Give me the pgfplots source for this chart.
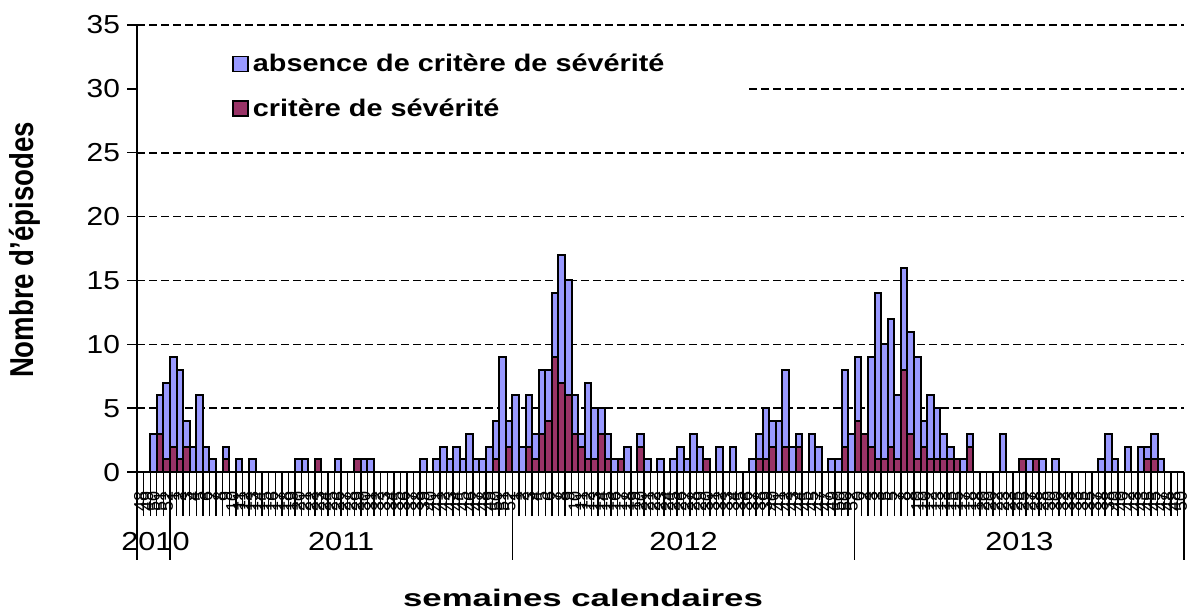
\documentclass[border=0pt]{standalone}
\usepackage{fontspec}
\setmainfont{Liberation Sans}
\usepackage{graphicx}
\usepackage{pgfplots}
\usepackage{pgfplotstable}
\pgfplotsset{compat=1.18}
\definecolor{absbleu}{HTML}{9999FF}
\definecolor{sevrouge}{HTML}{993366}

% x = semaine (0 = sem. 48 de 2010), sev = critère de sévérité, abs = absence de critère
\pgfplotstableread{
x sev abs
2 0 3
3 3 3
4 1 6
5 2 7
6 1 7
7 2 2
8 0 2
9 0 6
10 0 2
11 0 1
13 1 1
15 0 1
17 0 1
24 0 1
25 0 1
27 1 0
30 0 1
33 1 0
34 0 1
35 0 1
43 0 1
45 0 1
46 0 2
47 0 1
48 0 2
49 0 1
50 0 3
51 0 1
52 0 1
53 0 2
54 1 3
55 0 9
56 2 2
57 0 6
58 0 2
59 2 4
60 1 2
61 3 5
62 4 4
63 9 5
64 7 10
65 6 9
66 3 3
67 2 1
68 1 6
69 1 4
70 3 2
71 1 2
72 0 1
73 1 0
74 0 2
76 2 1
77 0 1
79 0 1
81 0 1
82 0 2
83 0 1
84 0 3
85 0 2
86 1 0
88 0 2
90 0 2
93 0 1
94 1 2
95 1 4
96 2 2
97 0 4
98 2 6
99 0 2
100 2 1
102 0 3
103 0 2
105 0 1
106 0 1
107 2 6
108 0 3
109 4 5
110 3 0
111 2 7
112 1 13
113 1 9
114 2 10
115 1 5
116 8 8
117 3 8
118 1 8
119 2 2
120 1 5
121 1 4
122 1 2
123 1 1
124 1 0
125 0 1
126 2 1
131 0 3
134 1 0
135 0 1
136 1 0
137 0 1
139 0 1
146 0 1
147 0 3
148 0 1
150 0 2
152 0 2
153 1 1
154 1 2
155 0 1
}\episodes

\newcommand\larg[1]{\scalebox{1.15}[1]{#1}}

\begin{document}
\begin{tikzpicture}
\begin{axis}[
  width=523.35pt, height=223.5pt, scale only axis,
  xmin=-0.5, xmax=158.5, ymin=0, ymax=35,
  clip=false,
  axis x line*=bottom, axis y line*=left,
  axis line style={black, line width=1pt},
  ybar stacked, bar width=1,
  ytick={0,5,...,35},
  yticklabel={\larg{\pgfmathprintnumber{\tick}}},
  ymajorgrids,
  major grid style={black, line width=0.8pt, dash pattern=on 4pt off 2pt},
  tick align=outside,
  major tick length=5pt,
  ytick style={black, line width=0.75pt},
  yticklabel style={font=\fontsize{13}{13}\selectfont},
  /pgf/number format/assume math mode=true,
  xtick={0,...,158},
  major x tick style={draw=none},
  minor xtick={-0.5,0.5,...,158.5},
  minor tick length=22pt,
  minor x tick style={black, line width=0.7pt},
  xticklabel={\pgfmathtruncatemacro\w{\tick<4.5 ? \tick+48 : (\tick<56.5 ? \tick-4 : (\tick<108.5 ? \tick-56 : \tick-108))}\w},
  xticklabel style={rotate=90, anchor=east, inner sep=0pt, font=\fontsize{9}{9}\selectfont, xshift=-4.5pt},
  legend image code/.code={\draw[#1, line width=0.8pt] (0pt,-3.75pt) rectangle (7.5pt,3.75pt);},
  reverse legend,
  legend cell align=left,
  legend style={at={(axis cs:13.0,33.4)}, anchor=north west, draw=none, fill=none,
    font=\fontsize{12}{12}\selectfont\bfseries, row sep=8pt,
    /tikz/every even column/.append style={column sep=0pt}},
]
\fill[white] (axis cs:-0.3,26.8) rectangle (axis cs:92.5,33.6);
\addplot[fill=sevrouge, draw=black, line width=1pt] table[x=x, y=sev] {\episodes};
\addlegendentry{\scalebox{1.2}[1]{critère de sévérité}}
\addplot[fill=absbleu, draw=black, line width=1pt] table[x=x, y=abs] {\episodes};
\addlegendentry{\scalebox{1.2}[1]{absence de critère de sévérité}}

% séparateurs des années
\pgfplotsinvokeforeach{-0.5,4.5,56.5,108.5,158.5}{
  \draw[black, line width=0.6pt] (axis cs:#1,0) -- ++(0pt,-44pt);
}
\node[font=\fontsize{13}{13}\selectfont] at (axis cs:2.3,0) [yshift=-34.5pt] {\scalebox{1.18}[1]{2010}};
\node[font=\fontsize{13}{13}\selectfont] at (axis cs:30.5,0) [yshift=-34.5pt] {\scalebox{1.18}[1]{2011}};
\node[font=\fontsize{13}{13}\selectfont] at (axis cs:82.5,0) [yshift=-34.5pt] {\scalebox{1.18}[1]{2012}};
\node[font=\fontsize{13}{13}\selectfont] at (axis cs:133.5,0) [yshift=-34.5pt] {\scalebox{1.18}[1]{2013}};

\node[font=\fontsize{12}{12}\selectfont\bfseries] at (rel axis cs:0.426,0) [yshift=-63pt] {\scalebox{1.45}[1]{semaines calendaires}};
\path (rel axis cs:0,0.497) ++(-56pt,0pt) node[rotate=90, font=\fontsize{13.8}{13.8}\selectfont\bfseries] {\scalebox{1}[1.2]{Nombre d'épisodes}};

\path (rel axis cs:0,0) ++(-68.5pt,-68.5pt);
\path (rel axis cs:1,1) ++(3pt,12.5pt);
\end{axis}
\end{tikzpicture}
\end{document}
